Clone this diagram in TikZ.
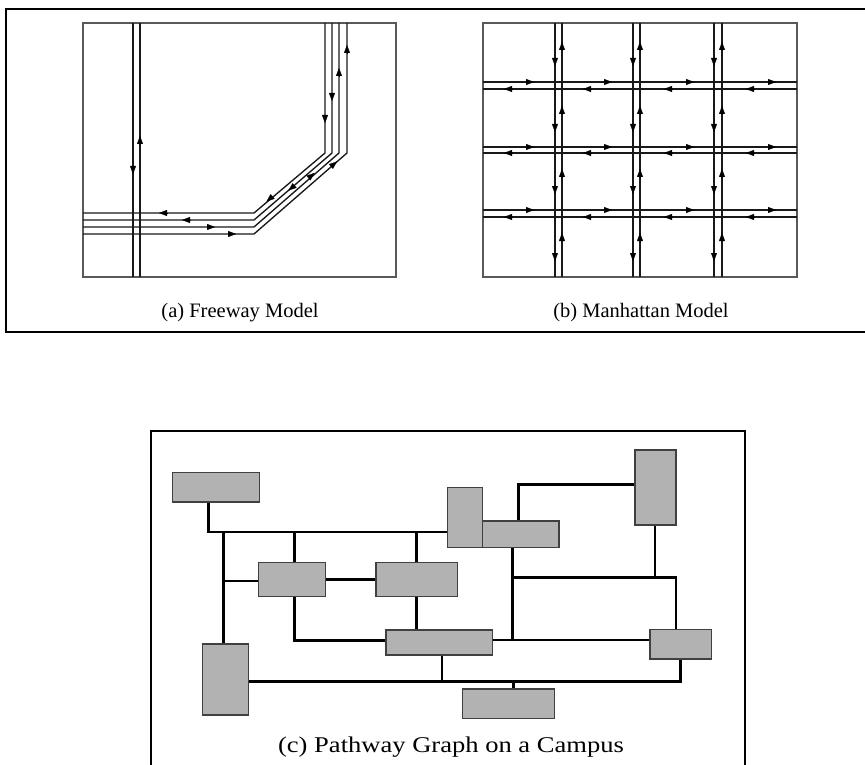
\documentclass[tikz,border=0pt]{standalone}
\usepackage{fontspec}
\setmainfont{Liberation Serif}
\usetikzlibrary{arrows.meta,calc,backgrounds}
\begin{document}
\begin{tikzpicture}[x=1pt,y=-1pt,
  road/.style={draw=black!90, line width=1.35pt},
  panel/.style={draw=black!65, line width=1.7pt},
  outerframe/.style={draw=black, line width=2.8pt, line join=miter},
  arr/.style={-{Triangle[length=8pt,width=6pt]}, line width=0.2pt, black},
  bldg/.style={draw=black!75, fill=black!30, line width=1.5pt, inner sep=0pt},
  pathway/.style={draw=black, line width=2.9pt, line join=miter},
  captext/.style={font=\fontsize{20.5}{24}\selectfont, anchor=base, inner sep=0pt}
]
\useasboundingbox (0,0) rectangle (865,765);

% ---------- outer frames ----------
\draw[outerframe] (866,9) -- (6,9) -- (6,332) -- (866,332);
\draw[outerframe] (151,770) -- (151,431) -- (745,431) -- (745,770);

% ---------- (a) Freeway model ----------
\draw[panel] (83,23) rectangle (396,277);
\draw[road] (133,23) -- (133,277);
\draw[road] (140,23) -- (140,277);
\foreach \hy/\vx in {213/325,220/332,227/339,234/347}
  \draw[road] (83,\hy) -- (254,\hy) -- (\vx,153) -- (\vx,23);
% arrows on the straight lanes
\draw[arr] (133,166) -- (133,174);
\draw[arr] (140,144) -- (140,136);
\draw[arr] (167,213) -- (159,213);
\draw[arr] (190,220) -- (182,220);
\draw[arr] (207,227) -- (215,227);
\draw[arr] (228,234) -- (236,234);
\draw[arr] (325,115) -- (325,123);
\draw[arr] (332,93) -- (332,101);
\draw[arr] (339,76) -- (339,68);
\draw[arr] (347,53) -- (347,45);
% arrows on the diagonal
\draw[arr] (269.5,199) ++(-40:4) -- ++(140:8);
\draw[arr] (291.5,188) ++(-40:4) -- ++(140:8);
\draw[arr] (311.5,175.5) ++(140:4) -- ++(-40:8);
\draw[arr] (334,164) ++(140:4) -- ++(-40:8);
\node[captext] (capa) at (240,317) {(a) Freeway Model};

% ---------- (b) Manhattan model ----------
\draw[panel] (483,23) rectangle (797,277);
\foreach \vx in {555,562,633,640,714,722}
  \draw[road] (\vx,23) -- (\vx,277);
\foreach \hy in {82,89,147,153,210,217}
  \draw[road] (483,\hy) -- (797,\hy);
\foreach \vx in {555,633,714}
  \foreach \yy in {62,128,190,257}
    \draw[arr] (\vx,\yy-4) -- (\vx,\yy+4);
\foreach \vx in {562,640,722}
  \foreach \yy in {46,110,173,237}
    \draw[arr] (\vx,\yy+4) -- (\vx,\yy-4);
\foreach \hy in {82,147,210}
  \foreach \xx in {530,608,690,772}
    \draw[arr] (\xx-4,\hy) -- (\xx+4,\hy);
\foreach \hy in {89,153,217}
  \foreach \xx in {508,587,668,750}
    \draw[arr] (\xx+4,\hy) -- (\xx-4,\hy);
\node[captext] (capb) at (641,317) {(b) Manhattan Model};

% ---------- (c) Pathway graph ----------
\node[bldg, minimum width=87pt,   minimum height=29.3pt] (A) at (215.8,487.35) {};
\node[bldg, minimum width=46pt,   minimum height=71pt]   (B) at (225.7,679.5) {};
\node[bldg, minimum width=66.6pt, minimum height=33.6pt] (C) at (292,579.5) {};
\node[bldg, minimum width=81.7pt, minimum height=33.6pt] (D) at (416.85,579.5) {};
\node[bldg, minimum width=106.3pt,minimum height=25pt]   (E) at (439.15,642.5) {};
\node[bldg, minimum width=35pt,   minimum height=60pt]   (F) at (464.8,517.7) {};
\node[bldg, minimum width=76.7pt, minimum height=26.7pt] (G) at (520.65,534.35) {};
\node[bldg, minimum width=41pt,   minimum height=75pt]   (H) at (655.5,487.5) {};
\node[bldg, minimum width=61.7pt, minimum height=29.3pt] (I) at (680.85,644.35) {};
\node[bldg, minimum width=92pt,   minimum height=29.3pt] (J) at (508.3,703.65) {};

\coordinate (j1) at (208.3,532);
\coordinate (j2) at (223.3,532);
\coordinate (j3) at (223.3,581);
\coordinate (j4) at (294.3,532);
\coordinate (j5) at (416.7,532);
\coordinate (j7) at (294.3,640.3);
\coordinate (j9) at (442,681.7);
\coordinate (j10) at (680.7,681.7);
\coordinate (j11) at (513.3,681.7);
\coordinate (j12) at (512.7,640);
\coordinate (j14) at (512.7,577.7);
\coordinate (j14b) at (676,577.7);
\coordinate (j15) at (655,577.7);
\coordinate (j16) at (518.3,484.3);

\begin{scope}[on background layer]
\draw[pathway] (A.south -| j1) |- (F.west |- j1);
\draw[pathway] (j2) -- (B.north -| j2);
\draw[pathway] (j3) -- (C.west |- j3);
\draw[pathway] (j4) -- (C.north -| j4);
\draw[pathway] (j5) -- (D.north -| j5);
\draw[pathway] (C.east) -- (D.west);
\draw[pathway] (C.south -| j7) |- (E.west |- j7);
\draw[pathway] (D.south -| j5) -- (E.north -| j5);
\draw[pathway] (E.south -| j9) -- (j9);
\draw[pathway] (B.east |- j10) -| (I.south -| j10);
\draw[pathway] (j11) -- (J.north -| j11);
\draw[pathway] (E.east |- j12) -- (I.west |- j12);
\draw[pathway] (G.south -| j12) -- (j12);
\draw[pathway] (j14) -- (j14b) -- (I.north -| j14b);
\draw[pathway] (H.south -| j15) -- (j15);
\draw[pathway] (G.north -| j16) |- (H.west |- j16);
\end{scope}

\node[font=\fontsize{22.5}{26}\selectfont, anchor=base, inner sep=0pt] (capc) at (451,752)
  {\scalebox{1.18}[1]{(c) Pathway Graph on a Campus}};
\end{tikzpicture}
\end{document}
